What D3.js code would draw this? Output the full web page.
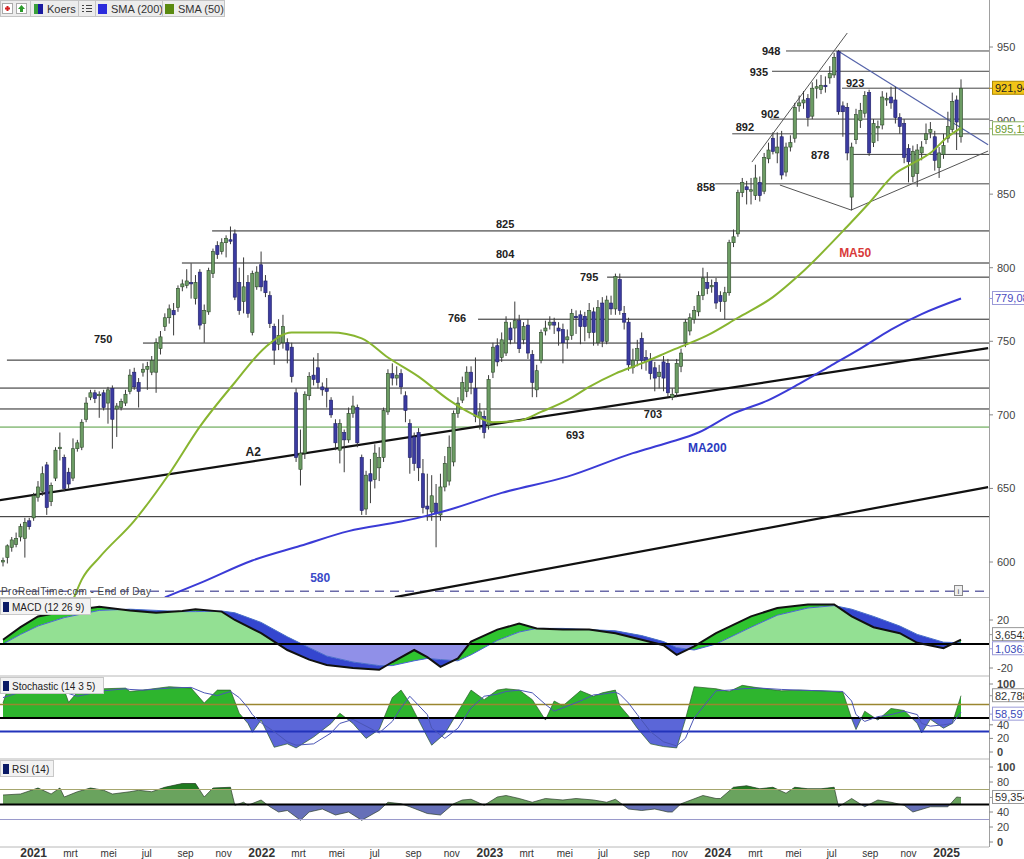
<!DOCTYPE html>
<html><head><meta charset="utf-8">
<script src="https://cdn.jsdelivr.net/npm/d3@7"></script>
<style>
body{margin:0;background:#fff;}
svg{display:block;font-family:"Liberation Sans",Arial,sans-serif;}
</style></head><body>
<svg id="c" width="1024" height="859"></svg>
<script>
// ---------- DATA (weekly candles, Nov 2020 - Jan 2025) ----------
const opens=[600,603,610,612,617,616,628,630,644,648,
666,641,657,677,671,661,657,677,678,697,
712,715,713,715,708,718,704,705,708,716,
729,722,729,731,729,729,745,760,766,771,
773,787,788,790,779,797,762,770,796,815,
811,817,819,823,790,777,790,756,787,802,
791,781,760,748,749,749,746,715,663,674,
713,727,732,719,718,710,694,676,688,683,
701,705,671,636,660,656,664,671,702,728,
725,728,713,694,685,688,660,638,634,640,
632,651,655,668,701,710,716,729,718,698,
699,693,729,747,739,742,759,759,764,751,
761,741,717,737,757,761,763,759,758,751,
754,767,768,767,756,770,749,776,750,776,
772,792,769,763,732,737,752,739,738,732,
726,736,735,712,715,733,749,757,765,770,
781,790,787,790,781,777,783,817,823,851,
855,852,849,858,852,874,888,878,889,865,
882,888,910,912,915,903,922,921,924,929,
931,947,910,909,848,887,900,905,919,885,
895,897,914,916,914,902,898,881,862,864,
878,887,892,889,868,877,888,894,914,889];
const highs=[603,612,617,620,626,630,630,647,655,665,
668,654,678,688,673,664,684,683,697,712,
717,717,716,717,719,720,708,711,717,731,
732,725,735,736,740,752,757,769,775,776,
788,792,799,803,795,799,775,800,813,818,
820,822,828,826,800,807,795,798,801,811,
795,784,762,765,768,752,749,718,690,716,
729,739,742,722,725,712,697,697,690,705,
713,707,673,662,670,680,678,705,731,735,
733,731,716,697,688,691,670,660,659,653,
660,672,686,703,712,726,733,733,739,708,
703,727,749,752,756,767,763,777,768,763,
765,744,734,758,764,767,766,763,762,758,
772,771,771,770,776,773,778,780,781,781,
796,796,774,766,745,751,756,744,742,736,
734,740,738,718,738,745,765,769,774,784,
800,797,792,793,784,787,819,826,853,861,
859,861,870,862,878,885,892,892,893,885,
890,912,917,920,918,926,928,931,930,937,
946,948,913,912,885,908,912,920,921,901,
900,920,919,923,923,905,901,884,883,884,
886,898,899,893,882,891,906,919,917,928];
const lows=[597,599,607,610,614,603,622,628,641,645,
632,638,655,669,648,650,655,675,676,695,
710,708,698,703,694,677,685,703,706,714,
717,705,726,717,727,715,741,757,762,754,
770,784,786,779,775,758,749,768,793,806,
809,807,816,778,768,769,766,754,785,784,
780,759,734,744,745,735,722,668,652,670,
710,720,718,713,705,698,676,667,661,681,
698,678,632,632,640,650,655,668,700,720,
720,714,695,660,662,655,633,628,628,610,
628,648,652,665,698,708,712,714,695,690,
684,690,725,733,736,740,748,749,742,748,
738,712,712,735,754,758,755,747,735,745,
751,755,748,750,752,747,747,746,748,768,
768,768,758,730,728,733,731,730,724,716,
718,716,712,710,712,729,746,754,762,767,
778,782,783,772,770,765,781,814,821,848,
843,843,846,845,850,871,877,871,860,862,
879,885,906,908,896,901,915,918,919,925,
929,904,889,873,839,884,895,902,876,882,
886,894,910,908,898,891,871,858,858,855,
873,884,888,866,861,874,885,892,880,885];
const closes=[601,611,615,616,624,627,624,645,651,660,
637,652,676,678,650,653,677,681,695,708,
715,711,714,705,717,697,706,709,714,727,
719,716,731,733,737,749,753,766,772,768,
786,789,791,789,790,761,771,798,811,809,
817,820,818,780,771,787,769,796,797,787,
783,762,744,754,760,744,726,671,674,714,
726,724,722,717,716,700,681,694,683,701,
706,681,635,659,655,674,671,703,728,725,
727,719,703,671,667,664,637,636,645,633,
651,667,678,701,708,722,729,722,699,702,
688,724,746,736,751,763,751,764,745,760,
742,722,730,756,759,763,761,757,749,753,
769,766,760,760,771,756,773,750,778,772,
794,771,763,734,737,745,737,736,728,725,
729,725,715,714,735,742,763,766,771,781,
793,786,788,776,777,783,817,821,851,858,
853,853,861,849,875,880,879,882,863,882,
885,909,912,914,902,922,923,924,923,932,
943,906,906,878,882,904,907,917,878,898,
896,916,915,912,902,896,875,872,879,880,
882,891,894,873,878,883,896,913,899,921.94];

// moving averages (read at sample weeks)
const sma50Weeks=[16,18,22,30,38,45,53,60,66,75,82,88,95,102,107,112,118,123,129,134,140,146,153,161,168,176,182,193,198,204,208,212,216,219];
const sma50Vals=[574,588,603,628,660,692,722,746,756,756,752,739,726,710,701,695,696,702,710,719,728,735,744,754,766,780,795,828,844,864,871,878,889,895.11];
const sma200Weeks=[37,45,57,68,79,91,97,102,114,129,144,152,159,167,175,182,189,196,203,210,219];
const sma200Vals=[576,585.6,601,611,621,627.5,631.5,635.5,647,658,674,681,688,701,710,721,733,745,758,768.5,779.08];

// horizontal levels
const levelVals=[947.3,933.5,922,901,891,877,857,825,803.2,793.6,765,748.8,737.2,718.2,704,630.8];
const levelFromWeek=[179,175.8,191.8,175.4,166.7,194.1,162.8,47.8,40.9,138.1,108.6,32,0.9,-0.7,-0.7,-0.7];
const greenLevel=691.7, dashedLevel=580.2;

// trend lines [w1,p1,w2,p2]
const trendA2=[-0.7,642,225.2,745.4];
const trendLow=[89.6,576.1,225.2,650.9];
const wedgeUp=[171.2,871.8,193,959.5];
const descLine=[190.9,947.3,225.2,883.5];
const diamondL=[177.6,856.2,193.9,839.2];
const diamondR=[193.9,839.2,225.2,879.3];

// annotations
const annText=["948","935","923","902","892","878","858","825","804","795","766","750","703","693","A2"];
const annWeek=[175.6,172.8,194.8,175.4,169.6,186.8,160.7,114.8,114.8,134,103.8,22.9,148.6,130.8,57.2];
const annPrice=[947.3,933,925.5,904.5,895.6,876.6,854.8,829.7,809.3,793.6,765.8,751.5,700.5,686.2,674.7];

// MACD (12 26 9)
const macdWeeks=[0,4,8,14,22,29,35,41,44,50,53,59,65,70,74,80,86,89,94,97,100,104,107,113,118,122,128,134,140,146,151,154,158,163,171,177,184,190,194,199,205,209,215,219];
const macdLine=[3.5,14,23,27,31,28,26,27.5,29,27,20,9,-5,-13,-17.5,-20,-21.5,-15,-5,-11,-19,-12,2,12,17,13,12,12,9,3.5,-1,-9,-2,9,23,30,33,33,23,14,9,1,-3.5,3.6542];
const macdSignal=[0,8,15,22,28,29,28,27,27,27.5,26,18,6,-3,-10,-15,-18,-18,-14,-12,-13,-14,-9,3,10,13,13,12,11,7,2,-3,-5,0,14,24,30,32,29,23,15,8,1.5,1.0361];

// Stochastic (14 3 5)
const stochWeeks=[0,1,4,14,15,17,23,28,29,32,38,43,46,49,52,54,56,57,59,62,65,67,71,75,77,80,83,86,89,91,93,97,98,101,104,107,110,113,115,118,121,124,126,128,132,135,137,140,141,143,145,148,151,154,156,158,163,166,169,173,178,182,187,192,194,195,197,200,203,206,209,210,212,215,217,219];
const stochK=[72,91,95,91,73,88,93,94,89,91,96,94,72,91,91,57,42,29,47,7,12,6,22,42,57,42,20,33,80,91,72,22,10,27,59,91,77,91,93,91,77,47,75,68,90,82,87,91,68,53,35,12,8,6,48,96,93,89,98,94,90,91,90,88,49,33,60,47,64,61,42,28,48,35,42,82.788];
const stochD=[80,82,88,92,86,82,90,93,92,91,94,95,87,83,89,80,65,55,43,30,15,10,12,28,42,48,38,28,45,65,82,55,35,20,35,65,82,85,89,91,87,70,60,65,75,84,85,88,85,72,55,30,15,9,20,50,90,91,93,94,92,91,90,89,75,55,45,52,55,60,55,42,38,40,42,58.597];

// RSI (14)
const rsiWeeks=[0,4,8,11,13,14,17,20,23,25,29,31,34,37,41,44,46,48,52,53,55,56,59,61,63,65,68,70,73,76,79,82,86,88,91,93,97,100,103,105,107,110,113,115,118,121,124,128,131,135,138,140,143,146,149,152,153,155,160,163,164,167,170,173,176,179,181,184,187,190,191,194,197,200,203,206,208,212,216,218,219];
const rsiVals=[62.7,64,72,64,72,60,67,72,69,64,67,69,67,73,78,78,60,72,73,49,53,49,56,47,40,42,29,40,44,36,40,29,42,53,51,47,38,36,51,56,57,49,60,62,58,53,58,56,58,56,53,57,44,42,44,40,40,51,62,58,58,73,75,71,73,65,73,71,71,73,47,58,47,56,53,49,40,47,47,60,59.354];

// axis ticks
const priceTicks=[600,650,700,750,800,850,900,950];
const monthNames=["jan","feb","mrt","apr","mei","jun","jul","aug","sep","okt","nov","dec"];

// ---------- SCALES ----------
const svg=d3.select("#c");
const start=Date.UTC(2020,10,13), DAY=864e5;
const wd=w=>new Date(start+w*7*DAY);
const x=d3.scaleTime().domain([wd(0),wd(219)]).range([3,961]);
const xw=w=>x(wd(w));
const R=989;
const y=d3.scaleLinear().domain([600,950]).range([562,47]);
const yM=d3.scaleLinear().domain([-20,20]).range([668,620]);
const yS=d3.scaleLinear().domain([0,100]).range([752,684]);
const yR=d3.scaleLinear().domain([0,100]).range([842,767]);

const defs=svg.append("defs");
function clipRect(id,x0,y0,x1,y1){defs.append("clipPath").attr("id",id).append("rect").attr("x",x0).attr("y",y0).attr("width",x1-x0).attr("height",y1-y0);}
clipRect("cMain",0,0,R,597);
clipRect("cMacd",0,598,R,676);
clipRect("cStoch",0,676,R,759);
clipRect("cRsi",0,759,R,847);

// ---------- MAIN PANEL ----------
const gm=svg.append("g").attr("clip-path","url(#cMain)");
levelVals.forEach((v,i)=>{
  gm.append("line").attr("x1",xw(levelFromWeek[i])).attr("x2",R).attr("y1",y(v)).attr("y2",y(v))
    .attr("stroke",i<7?"#444":"#222").attr("stroke-width",1);
});
gm.append("line").attr("x1",0).attr("x2",R).attr("y1",y(greenLevel)).attr("y2",y(greenLevel)).attr("stroke","#4f9a3a").attr("stroke-width",1);
gm.append("line").attr("x1",0).attr("x2",R).attr("y1",y(dashedLevel)).attr("y2",y(dashedLevel)).attr("stroke","#6a6aa8").attr("stroke-width",1.5).attr("stroke-dasharray","9,6");

function tline(t,col,wid){gm.append("line").attr("x1",xw(t[0])).attr("y1",y(t[1])).attr("x2",xw(t[2])).attr("y2",y(t[3])).attr("stroke",col).attr("stroke-width",wid);}
tline(trendA2,"#111",2.2);
tline(trendLow,"#111",2.2);
tline(wedgeUp,"#555",1);
tline(descLine,"#5563aa",1.2);
tline(diamondL,"#555",1);
tline(diamondR,"#555",1);

// candles
const candles=closes.map((c,i)=>({w:i,o:opens[i],h:highs[i],l:lows[i],c:c}));
gm.selectAll("line.wick").data(candles).join("line").attr("class","wick")
  .attr("x1",d=>xw(d.w)).attr("x2",d=>xw(d.w)).attr("y1",d=>y(d.h)).attr("y2",d=>y(d.l))
  .attr("stroke","#3a3a3a").attr("stroke-width",1);
gm.selectAll("rect.body").data(candles).join("rect").attr("class","body")
  .attr("x",d=>xw(d.w)-1.6).attr("width",3.2)
  .attr("y",d=>y(Math.max(d.o,d.c))).attr("height",d=>Math.max(1,Math.abs(y(d.o)-y(d.c))))
  .attr("fill",d=>d.c>=d.o?"#6c9c64":"#3b3ba0").attr("stroke",d=>d.c>=d.o?"#2e4a2a":"#1f1f66").attr("stroke-width",0.6);

// SMAs
const lineGen=(ys)=>d3.line().x(d=>xw(d[0])).y(d=>ys(d[1])).curve(d3.curveMonotoneX);
gm.append("path").datum(sma200Weeks.map((w,i)=>[w,sma200Vals[i]])).attr("d",lineGen(y)).attr("fill","none").attr("stroke","#3b3bd6").attr("stroke-width",2);
gm.append("path").datum(sma50Weeks.map((w,i)=>[w,sma50Vals[i]])).attr("d",lineGen(y)).attr("fill","none").attr("stroke","#88b530").attr("stroke-width",2);

// annotations
annText.forEach((t,i)=>{
  gm.append("text").attr("x",xw(annWeek[i])).attr("y",y(annPrice[i])+4).attr("text-anchor","middle")
    .attr("font-size",t==="A2"?12:11).attr("font-weight","bold").attr("fill","#222").text(t);
});
gm.append("text").attr("x",xw(194.8)).attr("y",y(810)+4).attr("text-anchor","middle").attr("font-size",12).attr("font-weight","bold").attr("fill","#d83a3a").text("MA50");
gm.append("text").attr("x",xw(161)).attr("y",y(677.4)+4).attr("text-anchor","middle").attr("font-size",12).attr("font-weight","bold").attr("fill","#2a3ac0").text("MA200");
gm.append("text").attr("x",xw(72.5)).attr("y",y(589)+4).attr("text-anchor","middle").attr("font-size",12).attr("font-weight","bold").attr("fill","#3a4ac8").text("580");

svg.append("text").attr("x",1).attr("y",595).attr("font-size",10).attr("font-family","'Liberation Sans Narrow','Liberation Sans',Arial").attr("fill","#444").attr("textLength",150).text("ProRealTime.com - End of Day");
svg.append("rect").attr("x",954.5).attr("y",585.5).attr("width",8).attr("height",10).attr("fill","#eee").attr("stroke","#888");
svg.append("text").attr("x",958.5).attr("y",594).attr("text-anchor","middle").attr("font-size",8).attr("fill","#555").text("i");

// ---------- MACD ----------
const gMacd=svg.append("g").attr("clip-path","url(#cMacd)");
const mp=macdWeeks.map((w,i)=>({w,m:macdLine[i],s:macdSignal[i]}));
clipRect("mAbove0",0,598,R,yM(0));
clipRect("mBelow0",0,yM(0),R,676);
defs.append("clipPath").attr("id","mAboveSig").append("path").attr("d",d3.area().x(d=>xw(d.w)).y0(590).y1(d=>yM(d.s))(mp));
defs.append("clipPath").attr("id","mBelowSig").append("path").attr("d",d3.area().x(d=>xw(d.w)).y0(680).y1(d=>yM(d.s))(mp));
const aZS=d3.area().x(d=>xw(d.w)).y0(yM(0)).y1(d=>yM(d.s));
const aMS=d3.area().x(d=>xw(d.w)).y0(d=>yM(d.s)).y1(d=>yM(d.m));
gMacd.append("path").datum(mp).attr("d",aZS).attr("fill","#93e093").attr("clip-path","url(#mAbove0)");
gMacd.append("path").datum(mp).attr("d",aZS).attr("fill","#9090e8").attr("clip-path","url(#mBelow0)");
gMacd.append("path").datum(mp).attr("d",aMS).attr("fill","#2fc42f").attr("clip-path","url(#mAboveSig)");
gMacd.append("path").datum(mp).attr("d",aMS).attr("fill","#3446cf").attr("clip-path","url(#mBelowSig)");
gMacd.append("path").datum(mp).attr("d",d3.line().x(d=>xw(d.w)).y(d=>yM(d.s))).attr("fill","none").attr("stroke","#4a6ad0").attr("stroke-width",1);
gMacd.append("line").attr("x1",0).attr("x2",R).attr("y1",yM(0)).attr("y2",yM(0)).attr("stroke","#000").attr("stroke-width",2);
gMacd.append("path").datum(mp).attr("d",d3.line().x(d=>xw(d.w)).y(d=>yM(d.m))).attr("fill","none").attr("stroke","#111").attr("stroke-width",2);

// ---------- STOCHASTIC ----------
const gSt=svg.append("g").attr("clip-path","url(#cStoch)");
const sp=stochWeeks.map((w,i)=>({w,k:stochK[i],d:stochD[i]}));
clipRect("sAbove",0,676,R,yS(50));
clipRect("sBelow",0,yS(50),R,759);
const aK=d3.area().x(d=>xw(d.w)).y0(yS(50)).y1(d=>yS(d.k));
gSt.append("path").datum(sp).attr("d",aK).attr("fill","#2eb52e").attr("clip-path","url(#sAbove)");
gSt.append("path").datum(sp).attr("d",aK).attr("fill","#5b66d8").attr("clip-path","url(#sBelow)");
gSt.append("path").datum(sp).attr("d",d3.line().x(d=>xw(d.w)).y(d=>yS(d.k))).attr("fill","none").attr("stroke","#2a5a2a").attr("stroke-width",0.7);
gSt.append("line").attr("x1",0).attr("x2",R).attr("y1",yS(70)).attr("y2",yS(70)).attr("stroke","#9a8630").attr("stroke-width",1.5);
gSt.append("line").attr("x1",0).attr("x2",R).attr("y1",yS(50)).attr("y2",yS(50)).attr("stroke","#000").attr("stroke-width",2);
gSt.append("line").attr("x1",0).attr("x2",R).attr("y1",yS(30)).attr("y2",yS(30)).attr("stroke","#2233bb").attr("stroke-width",2);
gSt.append("path").datum(sp).attr("d",d3.line().x(d=>xw(d.w)).y(d=>yS(d.d))).attr("fill","none").attr("stroke","#4a55b5").attr("stroke-width",1);

// ---------- RSI ----------
const gR=svg.append("g").attr("clip-path","url(#cRsi)");
const rp=rsiWeeks.map((w,i)=>({w,v:rsiVals[i]}));
clipRect("rAbove",0,759,R,yR(50));
clipRect("rBelow",0,yR(50),R,847);
clipRect("rAbove70",0,759,R,yR(70));
clipRect("rBelow30",0,yR(30),R,847);
const aR=d3.area().x(d=>xw(d.w)).y0(yR(50)).y1(d=>yR(d.v));
gR.append("path").datum(rp).attr("d",aR).attr("fill","#6aa35e").attr("clip-path","url(#rAbove)");
gR.append("path").datum(rp).attr("d",aR).attr("fill","#1f7a1f").attr("clip-path","url(#rAbove70)");
gR.append("path").datum(rp).attr("d",aR).attr("fill","#6670b8").attr("clip-path","url(#rBelow)");
gR.append("path").datum(rp).attr("d",aR).attr("fill","#363a96").attr("clip-path","url(#rBelow30)");
gR.append("path").datum(rp).attr("d",d3.line().x(d=>xw(d.w)).y(d=>yR(d.v))).attr("fill","none").attr("stroke","#2d3d2d").attr("stroke-width",0.7);
gR.append("line").attr("x1",0).attr("x2",R).attr("y1",yR(70)).attr("y2",yR(70)).attr("stroke","#a6a66e").attr("stroke-width",1.2);
gR.append("line").attr("x1",0).attr("x2",R).attr("y1",yR(50)).attr("y2",yR(50)).attr("stroke","#000").attr("stroke-width",2);
gR.append("line").attr("x1",0).attr("x2",R).attr("y1",yR(30)).attr("y2",yR(30)).attr("stroke","#9a9acb").attr("stroke-width",1.2);

// ---------- FRAME ----------
[597.5,676,759,847].forEach(v=>svg.append("line").attr("x1",0).attr("x2",R).attr("y1",v).attr("y2",v).attr("stroke","#b8b8b8").attr("stroke-width",1));
svg.append("line").attr("x1",R+0.5).attr("x2",R+0.5).attr("y1",0).attr("y2",847).attr("stroke","#a0a0a0").attr("stroke-width",1);

function rTick(v,ys,fs,bold){
  svg.append("line").attr("x1",R).attr("x2",R+4).attr("y1",ys(v)).attr("y2",ys(v)).attr("stroke","#888");
  svg.append("text").attr("x",R+8).attr("y",ys(v)+4).attr("font-size",fs||11).attr("font-weight",bold?"bold":"normal").attr("fill","#444").text(v);
}
priceTicks.forEach(v=>rTick(v,y,11));
[20,-20].forEach(v=>rTick(v,yM,11));
[100,40,20,0].forEach(v=>rTick(v,yS,11,v===100||v===0));
[100,80,40,20,0].forEach(v=>rTick(v,yR,11,v===100||v===0));
function valBox(yy,txt,fill,stroke,tcol){
  svg.append("line").attr("x1",R).attr("x2",R+4).attr("y1",yy).attr("y2",yy).attr("stroke",stroke);
  svg.append("rect").attr("x",R+3.5).attr("y",yy-7).attr("width",40).attr("height",13).attr("fill",fill).attr("stroke",stroke);
  svg.append("text").attr("x",R+6).attr("y",yy+4).attr("font-size",11).attr("fill",tcol).text(txt);
}
valBox(y(921.94),"921,94","#f2c418","#b08a00","#222");
valBox(y(895.11)+1,"895,11","#fff","#8ab060","#6a9a30");
valBox(y(779.08),"779,08","#fff","#9a9ad8","#4a4ac0");
valBox(yM(3.6542)-5,"3,6542","#fff","#999","#333");
valBox(yM(1.0361)+6,"1,0361","#fff","#9a9ad8","#3a4ab8");
valBox(yS(82.788),"82,788","#fff","#999","#333");
valBox(yS(58.597)+2,"58,597","#fff","#9a9ad8","#3a4ab8");
valBox(yR(59.354),"59,354","#fff","#999","#333");

// bottom axis
const months=d3.utcMonth.range(new Date(Date.UTC(2021,0,1)),new Date(Date.UTC(2025,0,2)),2);
months.forEach(m=>{
  const isY=m.getUTCMonth()===0;
  svg.append("text").attr("x",x(m)).attr("y",857).attr("text-anchor","middle")
    .attr("font-size",isY?12:10).attr("font-weight",isY?"bold":"normal")
    .attr("font-family",isY?"'Liberation Sans',Arial":"'Liberation Sans Narrow','Liberation Sans',Arial")
    .attr("fill","#333").text(isY?m.getUTCFullYear():monthNames[m.getUTCMonth()]);
});

function pLabel(yTop,w,txt){
  svg.append("rect").attr("x",0.5).attr("y",yTop+0.5).attr("width",w).attr("height",16).attr("fill","#f2f2f2").attr("stroke","#c8c8c8");
  svg.append("rect").attr("x",3).attr("y",yTop+4).attr("width",6).attr("height",10).attr("fill","#0a1a66");
  svg.append("text").attr("x",12).attr("y",yTop+12.5).attr("font-size",10).attr("font-family","'Liberation Sans Narrow','Liberation Sans',Arial").attr("fill","#222").text(txt);
}
pLabel(598,90,"MACD (12 26 9)");
pLabel(677,103,"Stochastic (14 3 5)");
pLabel(760,53,"RSI (14)");

const lg=svg.append("g");
lg.append("rect").attr("x",0.5).attr("y",0.5).attr("width",224).attr("height",16).attr("fill","#ececec").attr("stroke","#c4c4c4");
lg.append("rect").attr("x",2.5).attr("y",3.5).attr("width",10).attr("height",10).attr("fill","#fff").attr("stroke","#aaa");
lg.append("path").attr("d","M5,8.5h5M7.5,6v5").attr("stroke","#d42020").attr("stroke-width",2);
lg.append("rect").attr("x",16.5).attr("y",3.5).attr("width",10).attr("height",10).attr("fill","#fff").attr("stroke","#aaa");
lg.append("path").attr("d","M21.5,5l3.5,4h-2v3h-3v-3h-2z").attr("fill","#2a9a2a");
lg.append("line").attr("x1",30.5).attr("x2",30.5).attr("y1",1).attr("y2",16).attr("stroke","#c4c4c4");
lg.append("rect").attr("x",34).attr("y",4).attr("width",4).attr("height",10).attr("fill","#3aa03a");
lg.append("rect").attr("x",38).attr("y",4).attr("width",5).attr("height",10).attr("fill","#1a1aa0");
lg.append("text").attr("x",47).attr("y",13).attr("font-size",11).attr("fill","#333").text("Koers");
lg.append("line").attr("x1",78.5).attr("x2",78.5).attr("y1",1).attr("y2",16).attr("stroke","#c4c4c4");
lg.append("path").attr("d","M82,5.5h2M82,8.5h2M82,11.5h2M86,5.5h6M86,8.5h6M86,11.5h6").attr("stroke","#444").attr("stroke-width",1.2);
lg.append("line").attr("x1",95.5).attr("x2",95.5).attr("y1",1).attr("y2",16).attr("stroke","#c4c4c4");
lg.append("rect").attr("x",98).attr("y",4).attr("width",9).attr("height",10).attr("fill","#2b2bdc");
lg.append("text").attr("x",111).attr("y",13).attr("font-size",11).attr("fill","#333").text("SMA (200)");
lg.append("line").attr("x1",162.5).attr("x2",162.5).attr("y1",1).attr("y2",16).attr("stroke","#c4c4c4");
lg.append("rect").attr("x",165).attr("y",4).attr("width",9).attr("height",10).attr("fill","#5a8a10");
lg.append("text").attr("x",178).attr("y",13).attr("font-size",11).attr("fill","#333").text("SMA (50)");
</script>
</body></html>
